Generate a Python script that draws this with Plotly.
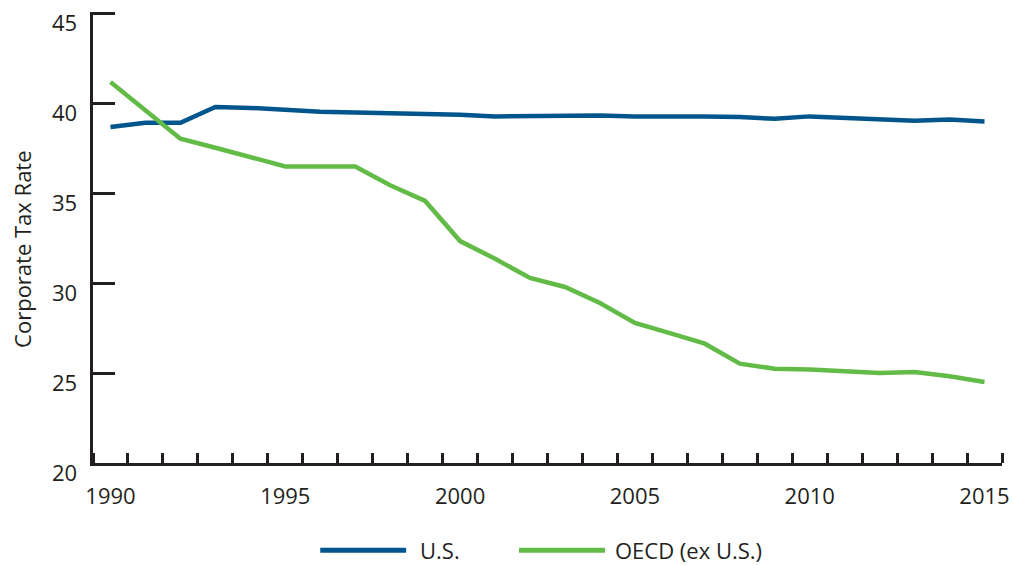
import plotly.graph_objects as go

years = list(range(1990, 2016))
us_rate = [38.67, 38.91, 38.9, 39.78, 39.73, 39.6, 39.52, 39.47, 39.45, 39.4,
           39.35, 39.26, 39.29, 39.31, 39.31, 39.26, 39.28, 39.26, 39.22, 39.13,
           39.26, 39.2, 39.11, 39.02, 39.08, 38.98]
oecd_rate = [41.17, 39.6, 38.02, 37.52, 36.97, 36.48, 36.48, 36.47, 35.43, 34.56,
             32.33, 31.35, 30.28, 29.78, 28.89, 27.78, 27.22, 26.63, 25.52, 25.24,
             25.19, 25.09, 25.0, 25.06, 24.82, 24.5]
series_names = ["U.S.", "OECD (ex U.S.)"]
x_tick_labels = [1990, 1995, 2000, 2005, 2010, 2015]
y_tick_labels = [20, 25, 30, 35, 40, 45]

BLUE = "#00558c"
GREEN = "#62bb46"
INK = "#231f20"
TEXT = "#231f20"
FONT = "Open Sans"
FS = 22

fig = go.Figure()
fig.add_trace(go.Scatter(x=years, y=us_rate, mode="lines", name=series_names[0],
                         line=dict(color=BLUE, width=4.5), showlegend=False))
fig.add_trace(go.Scatter(x=years, y=oecd_rate, mode="lines", name=series_names[1],
                         line=dict(color=GREEN, width=4.5), showlegend=False))

Y_TOP = 45.06
L, R, B = 92.5, 10.5, 102.3
W, H = 1013, 565
px_per_unit = (565 - B - 12.7) / 25.0
T = 12.7 - (Y_TOP - 45) * px_per_unit
pw = W - L - R
ph = H - T - B

fig.update_layout(
    width=W, height=H,
    margin=dict(l=L, r=R, t=T, b=B, autoexpand=False),
    paper_bgcolor="white", plot_bgcolor="white",
    font=dict(family=FONT, size=FS, color=TEXT),
    xaxis=dict(range=[1989.5, 2015.5], tickvals=x_tick_labels, ticks="", showgrid=False,
               zeroline=False, showline=True, linecolor=INK, linewidth=2.5,
               tickfont=dict(size=FS, color=TEXT), ticklabelstandoff=12,
               ticklabeloverflow="allow",
               minor=dict(tick0=1989.5, dtick=1, ticks="inside", ticklen=10,
                          tickwidth=2.5, tickcolor=INK, showgrid=False)),
    yaxis=dict(range=[20, Y_TOP], tickvals=y_tick_labels, ticks="inside", ticklen=22,
               tickwidth=2.5, tickcolor=INK, showgrid=False, zeroline=False,
               showline=True, linecolor=INK, linewidth=2.5, showticklabels=False),
)

# Y tick labels, sitting a little below their ticks as in the reference
for v in y_tick_labels:
    fig.add_annotation(xref="paper", yref="y", x=0, y=v, xanchor="right", yanchor="middle",
                       xshift=-14, yshift=-9, text=str(v), showarrow=False,
                       font=dict(size=FS, color=TEXT))

# Y axis title
fig.add_annotation(xref="paper", yref="paper", x=-(L - 22) / pw, y=(462.7 - 249) / (462.7 - 12.7) * 0 + (H - B - 249) / ph,
                   xanchor="center", yanchor="middle", textangle=-90,
                   text="Corporate Tax Rate", showarrow=False,
                   font=dict(size=FS, color=TEXT))

# Legend drawn manually to match the long line samples
legend_y = -(550 - (H - B)) / ph
items = [(320, 406, 418, BLUE, series_names[0]), (519, 605, 613, GREEN, series_names[1])]
for x0, x1, xt, col, name in items:
    fig.add_shape(type="line", xref="paper", yref="paper",
                  x0=(x0 - L) / pw, x1=(x1 - L) / pw, y0=legend_y, y1=legend_y,
                  line=dict(color=col, width=5))
    fig.add_annotation(xref="paper", yref="paper", x=(xt - L) / pw, y=legend_y,
                       xanchor="left", yanchor="middle", text=name, showarrow=False,
                       font=dict(size=FS, color=TEXT))

fig.write_html("out.html", config={"displayModeBar": False},
               post_script="document.body.style.margin='0';document.body.style.overflow='hidden';")
